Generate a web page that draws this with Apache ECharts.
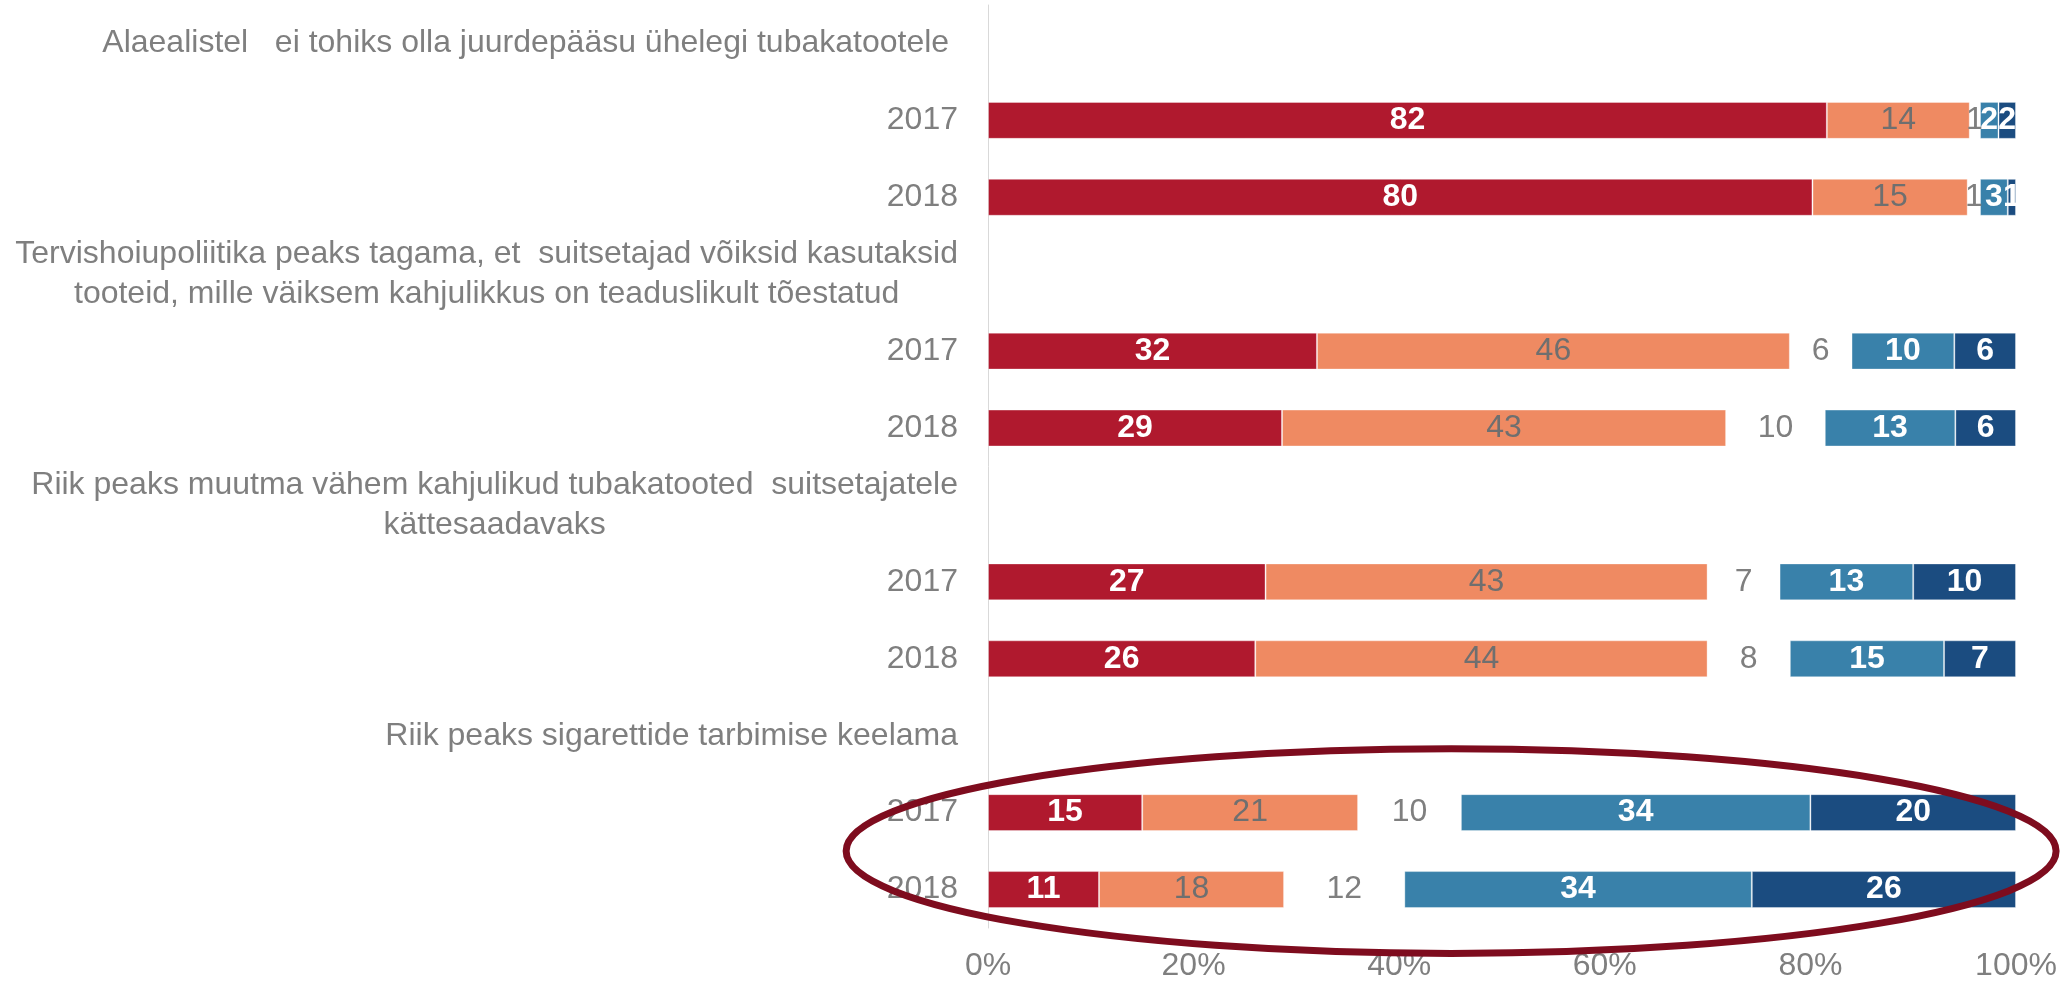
<!DOCTYPE html>
<html>
<head>
<meta charset="utf-8">
<script src="https://cdn.jsdelivr.net/npm/echarts@6/dist/echarts.min.js"></script>
<style>
html, body { margin: 0; padding: 0; background: #ffffff; }
#main { width: 2072px; height: 981px; }
</style>
</head>
<body>
<div id="main"></div>
<script>
// küsimused + aastad (päised on tühjad read)
var categories = [
    'Alaealistel   ei tohiks olla juurdepääsu ühelegi tubakatootele ',
    '2017', '2018',
    'Tervishoiupoliitika peaks tagama, et  suitsetajad võiksid kasutaksid\ntooteid, mille väiksem kahjulikkus on teaduslikult tõestatud',
    '2017', '2018',
    'Riik peaks muutma vähem kahjulikud tubakatooted  suitsetajatele\nkättesaadavaks',
    '2017', '2018',
    'Riik peaks sigarettide tarbimise keelama',
    '2017', '2018'
];
var headerRows = [0, 3, 6, 9];

// protsendid (loetud ribade pikkusest, sildid ümardatud)
var stronglyAgree = ['-', 81.6, 80.2, '-', 32, 28.6, '-', 27, 26, '-', 15, 10.8];
var agree         = ['-', 13.9, 15.1, '-', 46, 43.2, '-', 43, 44, '-', 21, 18];
var neutral       = ['-', 1.0, 1.2, '-', 6, 9.6, '-', 7, 8, '-', 10, 11.7];
var disagree      = ['-', 1.8, 2.7, '-', 10, 12.7, '-', 13, 15, '-', 34, 33.8];
var stronglyDis   = ['-', 1.7, 0.8, '-', 6, 5.9, '-', 10, 7, '-', 20, 25.7];

var xTicks = [0, 20, 40, 60, 80, 100];

var FONT = "'Liberation Sans', Arial, sans-serif";
var FS = 32;
var GREY = '#7f7f7f';

var chart = echarts.init(document.getElementById('main'));

function seg(name, data, color, labelColor, bold) {
    return {
        name: name,
        type: 'bar',
        stack: 'total',
        data: data,
        barWidth: '48%',
        itemStyle: {
            color: color,
            borderColor: color === 'transparent' ? 'transparent' : 'rgba(255,255,255,0.35)',
            borderWidth: 1
        },
        label: {
            show: true,
            position: 'inside',
            color: labelColor,
            fontFamily: FONT,
            fontSize: FS,
            fontWeight: bold ? 'bold' : 'normal',
            formatter: function (p) { return Math.round(p.value); }
        },
        emphasis: { disabled: true }
    };
}

var option = {
    animation: false,
    grid: { left: 988, right: 56, top: 5, bottom: 53, outerBoundsMode: 'none' },
    xAxis: {
        type: 'value',
        min: xTicks[0],
        max: xTicks[xTicks.length - 1],
        interval: 20,
        axisLine: { show: false },
        axisTick: { show: false },
        splitLine: { show: false },
        axisLabel: {
            color: GREY,
            fontFamily: FONT,
            fontSize: FS,
            margin: 22,
            formatter: '{value}%'
        }
    },
    yAxis: {
        type: 'category',
        inverse: true,
        data: categories,
        axisTick: { show: false },
        axisLine: { show: true, lineStyle: { color: '#d9d9d9', width: 1 } },
        axisLabel: {
            interval: 0,
            margin: 30,
            color: GREY,
            fontFamily: FONT,
            fontSize: FS,
            formatter: function (v, i) {
                if (headerRows.indexOf(i) >= 0) return '{h|' + v.split('\n').join('}\n{h|') + '}';
                return v;
            },
            rich: {
                h: { align: 'center', color: GREY, fontFamily: FONT, fontSize: FS, lineHeight: 40 }
            }
        }
    },
    series: [
        seg('Täiesti nõus', stronglyAgree, '#b0192e', '#ffffff', true),
        seg('Pigem nõus', agree, '#ef8a62', '#6f6f6f', false),
        seg('Ei oska öelda', neutral, 'transparent', GREY, false),
        seg('Pigem ei ole nõus', disagree, '#3981aa', '#ffffff', true),
        seg('Üldse ei ole nõus', stronglyDis, '#1b4c80', '#ffffff', true)
    ]
};
chart.setOption(option);

// ellips viimase küsimuse ümber
var c0 = chart.convertToPixel({ yAxisIndex: 0 }, 10);
var c1 = chart.convertToPixel({ yAxisIndex: 0 }, 11);
var xl = chart.convertToPixel({ xAxisIndex: 0 }, -13.8);
var xr = chart.convertToPixel({ xAxisIndex: 0 }, 103.9);
var band = c1 - c0;
chart.setOption({
    graphic: [{
        type: 'ellipse',
        shape: { cx: (xl + xr) / 2, cy: (c0 + c1) / 2, rx: (xr - xl) / 2, ry: band * 1.33 },
        style: { fill: 'none', stroke: '#7e0c1e', lineWidth: 7 },
        z: 100
    }]
});
</script>
</body>
</html>
